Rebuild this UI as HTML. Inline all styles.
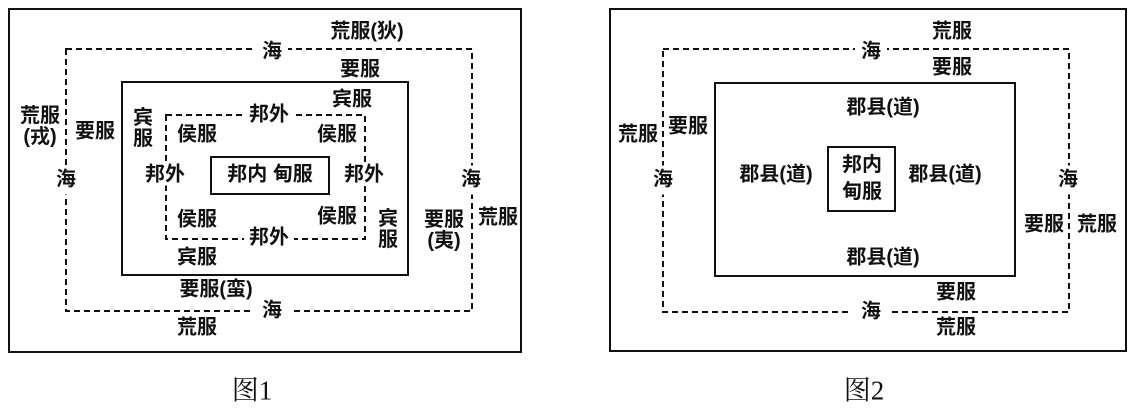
<!DOCTYPE html>
<html><head><meta charset="utf-8"><style>
body{margin:0;width:1139px;height:414px;background:#fff;position:relative;overflow:hidden;font-family:"Liberation Sans","Noto Sans CJK SC",sans-serif;}
svg{position:absolute;left:0;top:0}
.t{position:absolute;transform:translate(-50%,-50%);font-size:20px;font-weight:bold;line-height:21px;background:#fff;white-space:nowrap;color:#111;text-align:center;padding:0 3px}
.c{position:absolute;transform:translate(-50%,-50%);font-size:27px;font-family:"Liberation Serif","Noto Serif CJK SC",serif;white-space:nowrap;color:#111}
</style></head><body>
<svg width="1139" height="414">
<g fill="none" stroke="#111" stroke-width="2">
<rect x="9" y="9" width="512" height="343"/>
<rect x="122" y="82" width="286" height="193"/>
<rect x="211" y="157" width="118" height="37"/>
<rect x="66" y="49" width="406" height="262" stroke-dasharray="6,4"/>
<rect x="166" y="115" width="199" height="124" stroke-dasharray="6,4"/>
<rect x="610" y="9" width="516" height="342"/>
<rect x="715" y="83" width="300" height="193"/>
<rect x="828" y="147" width="67" height="64"/>
<rect x="663" y="49" width="406" height="263" stroke-dasharray="6,4"/>
</g></svg>
<div class="t" style="left:367px;top:32px">荒服(狄)</div>
<div class="t" style="left:272px;top:52px;padding:0 6px">海</div>
<div class="t" style="left:360px;top:70px">要服</div>
<div class="t" style="left:40px;top:127px;padding:0">荒服<br>(戎)</div>
<div class="t" style="left:95px;top:132px;padding:0">要服</div>
<div class="t" style="left:66px;top:180px;padding:4px 0">海</div>
<div class="t" style="left:143px;top:129px;padding:0">宾<br>服</div>
<div class="t" style="left:352px;top:100px">宾服</div>
<div class="t" style="left:269px;top:115px;padding:0 5px">邦外</div>
<div class="t" style="left:197px;top:135px">侯服</div>
<div class="t" style="left:337px;top:135px;padding:0">侯服</div>
<div class="t" style="left:165px;top:175px;padding:0">邦外</div>
<div class="t" style="left:270px;top:175px;background:none">邦内 甸服</div>
<div class="t" style="left:364px;top:175px;padding:0">邦外</div>
<div class="t" style="left:197px;top:220px">侯服</div>
<div class="t" style="left:337px;top:217px;padding:0">侯服</div>
<div class="t" style="left:388px;top:230px;padding:0">宾<br>服</div>
<div class="t" style="left:269px;top:238px;padding:0 5px">邦外</div>
<div class="t" style="left:197px;top:258px">宾服</div>
<div class="t" style="left:216px;top:290px">要服(蛮)</div>
<div class="t" style="left:272px;top:311px;padding:0 10px">海</div>
<div class="t" style="left:197px;top:328px">荒服</div>
<div class="t" style="left:471px;top:180px;padding:4px 0">海</div>
<div class="t" style="left:444px;top:231px;padding:0">要服<br>(夷)</div>
<div class="t" style="left:498px;top:218px;padding:0">荒服</div>

<div class="t" style="left:952px;top:32px">荒服</div>
<div class="t" style="left:871px;top:52px;padding:0 6px">海</div>
<div class="t" style="left:952px;top:68px">要服</div>
<div class="t" style="left:883px;top:108px">郡县(道)</div>
<div class="t" style="left:638px;top:135px;padding:0">荒服</div>
<div class="t" style="left:688px;top:127px;padding:0">要服</div>
<div class="t" style="left:663px;top:180px;padding:4px 0">海</div>
<div class="t" style="left:776px;top:175px">郡县(道)</div>
<div class="t" style="left:945px;top:175px">郡县(道)</div>
<div class="t" style="left:862px;top:179px;background:none;line-height:27px">邦内<br>甸服</div>
<div class="t" style="left:883px;top:258px">郡县(道)</div>
<div class="t" style="left:956px;top:293px">要服</div>
<div class="t" style="left:871px;top:312px;padding:0 10px">海</div>
<div class="t" style="left:956px;top:328px">荒服</div>
<div class="t" style="left:1068px;top:180px;padding:4px 0">海</div>
<div class="t" style="left:1044px;top:225px;padding:0">要服</div>
<div class="t" style="left:1097px;top:225px;padding:0">荒服</div>

<div class="c" style="left:252px;top:388px">图1</div>
<div class="c" style="left:864px;top:388px">图2</div>
</body></html>
